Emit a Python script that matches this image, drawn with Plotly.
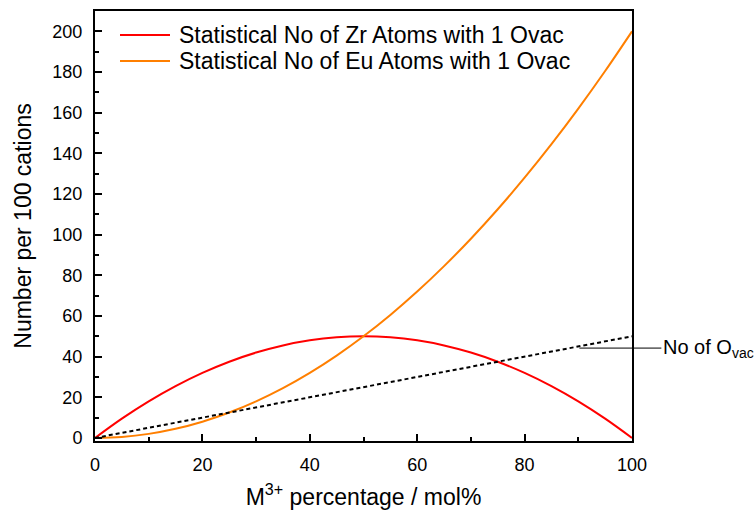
import plotly.graph_objects as go

# Data
x_pct = [0, 5, 10, 15, 20, 25, 30, 35, 40, 45, 50, 55, 60, 65, 70, 75, 80, 85, 90, 95, 100]
zr_atoms = [0, 9.5, 18, 25.5, 32, 37.5, 42, 45.5, 48, 49.5, 50, 49.5, 48, 45.5, 42, 37.5, 32, 25.5, 18, 9.5, 0]
eu_atoms = [0, 0.5, 2, 4.5, 8, 12.5, 18, 24.5, 32, 40.5, 50, 60.5, 72, 84.5, 98, 112.5, 128, 144.5, 162, 180.5, 200]
ovac_x = [0, 100]
ovac_y = [0, 50]
legend_names = ["Statistical No of Zr Atoms with 1 Ovac", "Statistical No of Eu Atoms with 1 Ovac"]
colors = ["#FF0000", "#FF7F00"]

FONT = "Liberation Sans, Arial, sans-serif"
W, H = 756, 510
ML, MR, MT, MB = 95, 124, 11, 69
PW, PH = W - ML - MR, H - MT - MB

fig = go.Figure()
fig.add_trace(go.Scatter(x=x_pct, y=zr_atoms, mode="lines", line=dict(color=colors[0], width=2, shape="spline"),
                         name=legend_names[0], showlegend=False))
fig.add_trace(go.Scatter(x=x_pct, y=eu_atoms, mode="lines", line=dict(color=colors[1], width=2, shape="spline"),
                         name=legend_names[1], showlegend=False))
fig.add_trace(go.Scatter(x=ovac_x, y=ovac_y, mode="lines", line=dict(color="black", width=2, dash="4px,3px"),
                         showlegend=False))

# manual legend (paper coordinates)
def px_x(p):
    return (p - ML) / PW

def px_y(p):
    return 1 - (p - MT) / PH

for i, (name, c) in enumerate(zip(legend_names, colors)):
    yy = 35 + 26 * i
    fig.add_shape(type="line", xref="paper", yref="paper", x0=px_x(120), x1=px_x(170),
                  y0=px_y(yy), y1=px_y(yy), line=dict(color=c, width=2))
    fig.add_annotation(xref="paper", yref="paper", x=px_x(177), y=px_y(yy), text=name, showarrow=False,
                       xanchor="left", yanchor="middle", font=dict(family=FONT, size=23, color="black"))

fig.add_annotation(x=90.2, y=44.2, xref="x", yref="y", text="No of O<sub>vac</sub>",
                   showarrow=True, arrowhead=0, arrowwidth=1, arrowcolor="black",
                   ax=82, ay=0, xanchor="left", font=dict(family=FONT, size=20, color="black"))

axis_common = dict(showline=True, linecolor="black", linewidth=2, mirror=True, showgrid=False, zeroline=False,
                   ticks="inside", ticklen=7, tickwidth=1.5, tickcolor="black", automargin=False,
                   tickfont=dict(family=FONT, size=18, color="black"),
                   minor=dict(ticks="inside", ticklen=4, tickwidth=1.5, tickcolor="black", dtick=10))

fig.update_xaxes(range=[0, 100], dtick=20, tick0=0, ticklabelstandoff=6,
                 title=dict(text="M<sup>3+</sup> percentage / mol%", font=dict(family=FONT, size=23, color="black"), standoff=18),
                 **axis_common)
fig.update_yaxes(range=[-1.5, 210], dtick=20, tick0=0, ticklabelstandoff=7,
                 title=dict(text="Number per 100 cations", font=dict(family=FONT, size=23, color="black"), standoff=14),
                 **axis_common)

fig.update_layout(width=W, height=H, margin=dict(l=ML, r=MR, t=MT, b=MB, autoexpand=False),
                  plot_bgcolor="white", paper_bgcolor="white", showlegend=False,
                  font=dict(family=FONT))

fig.write_html("out.html")
